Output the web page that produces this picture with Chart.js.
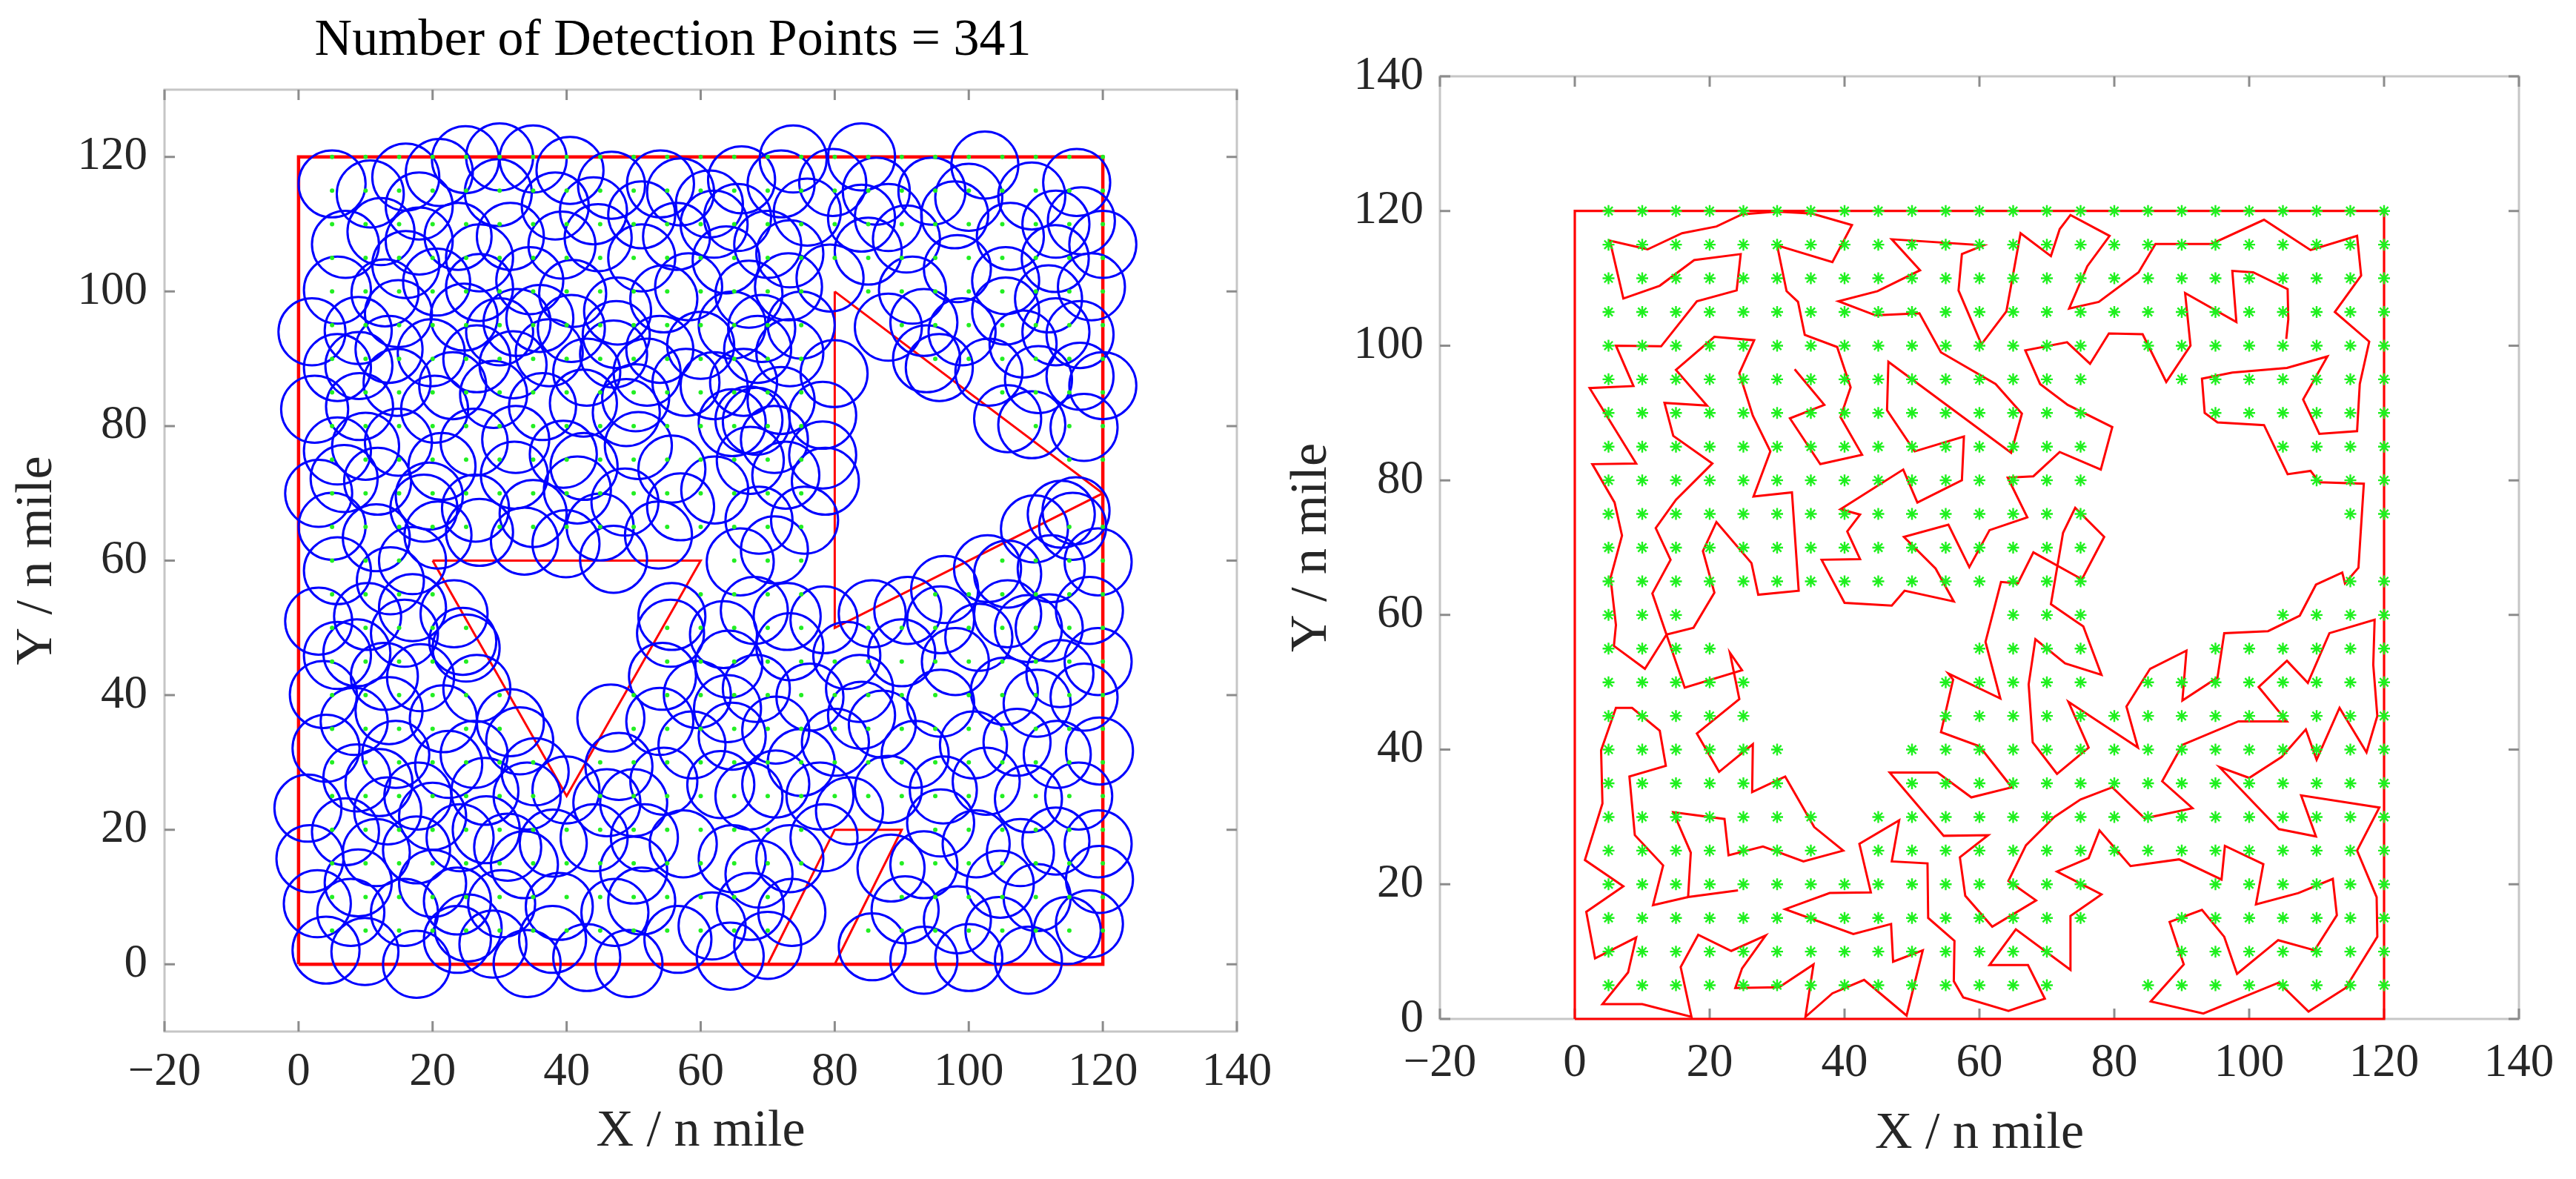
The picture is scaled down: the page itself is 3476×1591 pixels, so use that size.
<!DOCTYPE html>
<html>
<head>
<meta charset="utf-8">
<script src="https://cdn.jsdelivr.net/npm/chart.js@4.4.1/dist/chart.umd.min.js"></script>
<style>
  html, body { margin: 0; padding: 0; background: #fff; }
  #wrap { position: relative; width: 3476px; height: 1591px; overflow: hidden; }
  #leftBox { position: absolute; left: 0; top: 0; width: 1745px; height: 1591px; }
  #rightBox { position: absolute; left: 1700px; top: 0; width: 1776px; height: 1591px; }
</style>
</head>
<body>
<div id="wrap">
  <div id="leftBox"><canvas id="coverChart" width="1745" height="1591"></canvas></div>
  <div id="rightBox"><canvas id="routeChart" width="1776" height="1591"></canvas></div>
</div>
<script>
// ---- axes ----
var xTicks = [-20, 0, 20, 40, 60, 80, 100, 120, 140];
var yTicksLeft = [0, 20, 40, 60, 80, 100, 120];
var yTicksRight = [0, 20, 40, 60, 80, 100, 120, 140];

// ---- task area and obstacles (n mile) ----
var areaBorder = [[0, 0], [120, 0], [120, 120], [0, 120], [0, 0]];
var obstacleTri = [[20, 60], [60, 60], [40, 25], [20, 60]];
var obstacleRight = [[80, 100], [120, 70], [80, 50], [80, 100]];
var obstacleBottom = [[70, 0], [80, 20], [90, 20], [80, 0]];

// ---- candidate grid (green) ----
var gridX = [5, 10, 15, 20, 25, 30, 35, 40, 45, 50, 55, 60, 65, 70, 75, 80, 85, 90, 95, 100, 105, 110, 115, 120];
var gridY = [5, 10, 15, 20, 25, 30, 35, 40, 45, 50, 55, 60, 65, 70, 75, 80, 85, 90, 95, 100, 105, 110, 115, 120];
// rows where grid points are missing: [y, xFrom, xTo]
var gridGaps = [
  [5, 75, 80], [10, 75, 85], [15, 80, 85], [20, 80, 90],
  [25, 40, 40], [30, 40, 40], [35, 35, 45], [40, 35, 45], [45, 30, 50],
  [50, 30, 50], [50, 80, 80], [55, 25, 55], [55, 80, 90], [60, 20, 60], [60, 80, 100],
  [65, 80, 110], [70, 80, 120], [75, 80, 110], [80, 80, 105], [85, 80, 100],
  [90, 80, 90], [95, 80, 85], [100, 80, 80]
];

// ---- detection points (circle centres), radius 5 n mile ----
var sensorRadius = 5;
var centersTopLeft = [
  [5,116],[10.7,114.5],[16,117],[21,117.7],[24.9,119.6],[30,120],[35,119.7],[40.5,118],[46.7,115.8],[57,114.8],
  [18,112.7],[29.8,114.7],[38.3,112.7],[51.2,111.4],
  [7,107],[12.3,108.9],[18,107.5],[23.8,108.2],[31.6,108.2],[39.3,106.9],[44.7,108],[51.2,105],[56.4,108.2],
  [5.8,100.2],[12.9,99.8],[20.6,101.4],[27,100.6],[34.5,101.6],[47.6,97.1],[54.5,98.9],[58.2,100.7],
  [2,94],[8.9,94.2],[14.9,96.7],[24.7,96.2],[32.6,95.4],[40.7,94.5],
  [5.8,88.7],[13.5,91.4],[19.8,90.9],[26.6,90],[32,89.1],[37.4,90.9],[47,90.7],[53.9,91.4],[57.8,86.5],
  [2.4,82.5],[9.1,82.9],[14.7,86.5],[20.3,82.5],[29.1,84.7],[36.4,82.9],[42.5,83.4],[48.9,82],
  [5.8,76.3],[14.9,77.6],[21.4,74],[26.2,77.6],[32.4,78],[39.5,75.8],[50.7,77.1],[55.7,73.6],
  [6.8,72.2],[11.8,71.8],[26.4,67.8],[32.2,72.7],[41.6,70.5],
  [5,65.1],[11.6,63.4],[18.7,67.8],[20.8,63.8],[33.7,62.9],[39.9,62.5],[53.7,63.8],
  [40.9,99.7],[47.4,93.6],[50.3,84.2],[42.6,74],[19.5,69.6],[27,64.2],[47,60.2],[48.7,68.7],
  [44,112],[27,105],[36,96],[43,88],[23,86],[10,77],[35,67],[45,65],[57,68],[52,88],
  [60,92],[16,104],[3,70],[30,94],[54,116],[9,89],[17,60]
];
var centersTopRight = [
  [66.1,116.6],[73.8,119.7],[72,116],[79.7,116.2],[86.2,114.9],[94.5,114.9],[102.4,118.8],[109.4,114.2],[116.1,116.2],[116.8,110.5],
  [61.3,113],[65.5,111],[75.9,111.8],[84,110.9],[90.7,107.8],[97.9,111.4],[106.2,108.2],[112.9,104.9],
  [63.8,104.7],[67.2,99.6],[73.3,105.6],[79.3,102],[73.1,100.7],[91.6,100.2],[98.3,103.4],[105.5,101.6],[111.9,98.9],[118.3,100.7],[116.6,93.6],
  [69.1,94.5],[73.3,90.9],[79.9,87.8],[88,94.7],[93.3,95.4],[93.7,90],[95.6,88.7],[105.5,97.1],[108.1,92.2],[110.4,86.9],[116.6,87.4],
  [67.2,80.9],[78.2,81.6],[78.6,71.8],[105.8,81.1],[109.4,80.2],[117.2,79.8],
  [109.8,64.7],[113.8,66.9],[116,67.4],[115.5,65.1],[119.3,59.8],[105.8,58],
  [64.7,95],[68.5,91.4],[66.4,86.5],[72,83.8],[64.7,80.5],[68.3,80.7],[78.2,75.7],[67.4,74.9],[72.7,72.7],[62.1,70.5],[68.7,66],[75.5,66],[71,61.6],[65.9,59.8],
  [85,106],[100,114],[113,110],[120,107],[99,94],[113,94],[70,107],[62,110],[75,95],[84,120],
  [120,86],[103,88],[71,78],[62,86],[88,111]
];
var centersBottomLeft = [
  [5.8,58.5],[10.3,51.7],[13.7,57],[23.2,52.1],[24.5,48],[25,47],[5.8,45.9],[8.7,46.3],[15.8,49.2],[12.8,42.8],
  [18.2,42.6],[3.7,40.1],[8.3,36.1],[13.5,37.7],[21.6,36.5],[26.6,41],[31.6,35.9],[33,33.2],[26.2,31.2],[46.6,36.6],
  [53.9,36.1],[54.3,42.8],[55.7,51.7],[55.5,49.2],[59.5,40.1],[58.7,32.6],[4.1,32.1],[14.5,31.2],[8.7,27.7],[1.4,23.2],
  [22.4,29.7],[17.8,25],[27.8,25.7],[35.3,28.6],[39.9,25.9],[47.8,29.4],[54.5,27.2],[34.1,25],[7,19.7],[13.3,22.8],
  [11.6,16.6],[1.7,15.7],[17.6,17],[24.1,18.8],[31.2,17.4],[44.1,18.8],[51.6,18.8],[8.9,12.1],[2.8,9],[7.8,7.7],
  [15.8,7.7],[23.7,9.4],[38.9,8.6],[47.2,7.7],[4.1,2.1],[9.9,1.9],[17.6,0],[23.7,3.7],[34.1,0.1],[37.9,3.7],
  [49.3,0.1],[56.6,3.7],[33.7,14.8],[30.3,9],[57.4,17.9],[25.3,5.4],[51.2,9.4],
  [50,24],[20,22],[46,24],[38,18],[50,14],[28,20],[3,51],[17,53],[12,27],[29,3],
  [43,1],[20,12]
];
var centersBottomRight = [
  [68,52.6],[72.9,51.7],[63.4,49],[78.4,51.2],[85.6,52.1],[90.9,52.6],[105.8,52.1],[118,52.6],[108.9,49.9],[101.5,48.6],
  [95.8,51.2],[119.3,45],[113.6,43.2],[90,46.3],[81.8,45.9],[73.3,47.2],[68.3,41],[76.3,39.7],[83.7,41],[95.8,38.8],
  [105.3,40.6],[110.2,38.8],[117.2,39.7],[119.5,31.7],[64.7,33.9],[71.2,34.8],[80.1,33],[87.1,35.7],[92,31.2],[100.7,32.6],
  [107.2,33],[113.2,31.2],[67.2,25],[71.2,26.8],[82.2,22.8],[96.2,25.9],[102.6,27.2],[108.9,24.6],[116.4,25],[119.3,17.9],
  [113,18.3],[107.7,16.6],[101.1,17.9],[95.8,21],[93.3,14.8],[88.4,14.3],[78.4,18.8],[73.3,15.7],[64.7,15.7],[104.7,11.9],
  [119.5,12.6],[110.2,9.9],[90.5,8.1],[98.3,6.6],[73.6,7.7],[70,2.8],[64.4,1.2],[85.6,2.6],[93.3,0.6],[104.5,5],
  [108.9,0.6],[114.7,5],[64.2,44.6],[63,26.7],[77.8,25],[68.7,13.4],[67.4,8.6],[61.7,5.7],[96.4,55.7],[102.8,58.8],
  [112.3,58.8],[75,30],[88,26],[98,45],[112,50],[118,6],[100,1],[84,37],[64,38]
];

// ---- planned route (right panel) ----
var routeA = [
  [32.6,96.5],[37,91.2],[31.9,89.2],[36.4,82.4],[42.6,83.8],[39.4,89.4],[40.9,93.8],[38.9,99.8],[34.1,101.6],[33.1,106.5],
  [31.4,108.1],[30,114.9],[38.2,112.4],[41.1,117.9],[35.2,119.6],[29.9,119.9],[24.8,119.5],[21,117.7],[15.9,116.7],[10.8,114.3],
  [5.2,115.6],[7.2,107],[12.6,108.9],[17.7,112.7],[24.6,113.6],[24,108.2],[18.1,106.6],[12.8,99.9],[6.1,100],[8.7,94],
  [2.2,93.7],[9.1,82.5],[2.6,82.4],[5.9,76.7],[7,71.8],[5.3,65.5],[6.1,58.5],[5.8,55.4],[10.4,52],[13.6,57.1],
  [17.6,58.1],[20.7,63.3],[19,69.5],[21,73.8],[26.2,67.7],[27.2,63],[33.2,63.6],[32.2,78.2],[26.5,77.6],[29,84.3],
  [26.4,89.6],[24.4,95.9],[26.6,100.8],[20.7,101.3],[15,96.4],[19.6,91.1],[13.3,91.5],[14.6,86.6],[20.4,82.5],[15,77.1],
  [12,72.9],[14.2,68.2],[11.5,63.2],[16.3,49.2],[24.8,51.8],[23,54.4],[24.4,47.5],[18.1,42.4],[21.4,36.7],[26.4,40.8],
  [26.3,33.7],[31.2,36],[35.5,28.5],[39.8,25],[33.9,23.4],[27.9,25.6],[22.8,24.3],[22.2,29.7],[14.6,30.7],[17.2,24.7],
  [16.8,18.1],[24.2,19.1]
];
var routeB = [
  [105.5,101],[105.8,103.9],[105.7,108.4],[100.6,110.9],[97.5,111.1],[98.1,103.5],[90.5,107.8],[91.3,100],[87.7,94.6],[84.2,101.7],
  [79.2,101.8],[76.4,97.3],[73,100.5],[66.8,99.3],[69,94.3],[73.1,91.2],[79.7,87.9],[78,81.6],[71.9,84.2],[68,80.6],
  [64.2,80.4],[67.1,74.5],[61.5,72.6],[58.5,67.1],[55.4,73.4],[48.8,71.6],[53.5,66.9],[56.2,62],[48.9,63.6],[47,61.4],
  [40,61.8],[36.6,68.2],[42.3,68.3],[40.4,72.4],[42.3,74.9],[39.4,75.7],[48.7,81.6],[50.8,76.7],[57.4,80],[57.7,86.5],
  [50.4,84.3],[46.3,90.4],[46.5,97.6],[64.7,84.1],[66.3,89.9],[62.4,94.3],[54.3,99],[51.1,104.8],[44.6,104.5],[39.1,106.6],
  [44.9,108.1],[51.2,111.2],[47,115.8],[60.6,114.9],[57.4,113.6],[56.9,108.2],[60.3,100.2],[64,105.1],[66.1,116.7],[70.6,113.3],
  [71.9,117.3],[73.5,119.4],[79.3,116.3],[76,111.8],[73.3,105.5],[77.7,106.5],[83.6,110.9],[86.1,115.1],[94.4,115.1],[102.2,118.7],
  [109.1,114.2],[116,116.3],[116.6,110.4],[112.7,105],[117.8,100.6],[116.4,94.3],[116,87.3],[110.4,86.9],[108,92],[111.6,98.4],
  [105.6,96.7],[97.5,96],[93,95.1],[93.4,90],[95.3,88.6],[102.2,88.2],[105.7,80.9],[109.1,81.4],[110.4,79.7],[117,79.5],
  [116.2,67],[114.2,64.7],[113.8,66.3],[109.9,64.5],[107.5,59.9],[102.8,57.6],[96.3,57.3],[95.3,50.7],[90.1,47.3],[90.7,54.7],
  [85.3,52],[81.8,46.4],[83.5,40.3],[73.2,47.1],[76.2,40.3],[71.5,36.4],[67.9,41.1],[67.3,49.7],[68.3,56.4],[72.7,52.8],
  [78.1,51.1],[75.4,58.3],[74.5,58.9],[70.6,61.6],[72.4,72.2],[74.2,75.9],[78.5,71.6],[75.2,65.3],[68,69.3],[65.7,64.7],
  [63.2,64.9],[60.9,56],[63.1,47.6],[55.4,51.3],[56.1,50.4],[54.3,42.6],[60,40.5],[64.8,34.4],[58.8,32.9],[53.8,36.6],
  [46.7,36.6],[54.7,27.2],[61.3,27.3],[57.1,24],[57.9,18.3],[61.9,13.7],[68.4,17.6],[64.3,20.5],[66.9,25.8],[71.1,30],
  [75,32.6],[79.7,34.4],[84.5,29.8],[91.6,31.3],[87.1,35.3],[90.1,40.7],[98.4,44.2],[105.6,44.2],[101.4,49.3],[105.6,53.2],
  [108.7,49.9],[111.9,57.3],[118.6,59.3],[118.4,52.6],[119,45],[117.4,39.6],[113.4,46.2],[110,38.5],[108.4,43],[104.8,38.9],
  [100,35.8],[95.6,37.4],[104.4,28.2],[109.9,27.1],[107.7,33.2],[119.3,31.4],[116,25],[118.9,18.1],[119,12.2],[114.3,4.6],
  [108.8,1.1],[104.4,5.4],[93.2,0.8],[85.4,2.6],[90.3,8.1],[88.2,14.4],[93,16.2],[96.3,12.2],[98.2,6.7],[104.3,11.7],
  [109.7,10.2],[113,15.4],[112.4,20.8],[107.3,18.7],[101,17],[102.1,23],[96.4,25.7],[95.9,20.7],[89.6,23.7],[82.4,22.7],
  [77.8,28],[76.2,23.9],[71.5,21.9],[78.1,18.5],[73.5,15.3],[73.5,7.3],[65.4,13.3],[61.5,8],[67.2,8],[69.7,3],
  [64.3,1.2],[57.6,3.2],[56.2,5.6],[56.3,11.6],[52.4,15],[52.3,23.1],[47,23.4],[48.1,29.5],[42.2,26],[43.9,18.8],
  [37.8,18.7],[31.2,16.3],[41.3,12.6],[46.9,14.1],[47.2,8.5],[51.6,10.2],[49.2,0.5],[42.9,5.8],[38.2,3.8],[34.2,0.3],
  [35.4,8.1],[30.3,4.7],[23.8,4.6],[24.8,7.5],[28.3,12.4],[23.2,10.1],[18.3,12.5],[15.7,7.7],[17.3,0.3],[10,2.2],
  [4.1,2.2],[7.9,6.9],[9.1,12.1],[3,9],[1.7,15.9],[7.2,19.7],[1.5,23.6],[4.1,32],[3.9,39.9],[6.1,46.2],
  [8.5,46.2],[12.6,42.8],[13.5,37.6],[8.1,36],[8.9,27.3],[13.1,22.8],[11.6,16.9],[16.8,18.1]
];

// ---- helpers ----
function toXY(list) {
  return list.map(function (p) { return { x: p[0], y: p[1] }; });
}
function gridPoints() {
  var pts = [];
  gridY.forEach(function (y) {
    gridX.forEach(function (x) {
      var skip = gridGaps.some(function (g) { return g[0] === y && x >= g[1] && x <= g[2]; });
      if (!skip) pts.push({ x: x, y: y });
    });
  });
  return pts;
}
function minusLabel(v) {
  return v < 0 ? '\u2212' + Math.abs(v) : String(v);
}

var SERIF = '"Liberation Serif", "Times New Roman", serif';
var TEXT = '#262626';

// box round the axes with inward ticks on all four sides
var axisFrame = {
  id: 'axisFrame',
  beforeDatasetsDraw: function (chart) {
    var ctx = chart.ctx, a = chart.chartArea;
    var sx = chart.scales.x, sy = chart.scales.y;
    ctx.save();
    ctx.strokeStyle = '#c6c6c6';
    ctx.lineWidth = 3;
    ctx.strokeRect(a.left, a.top, a.right - a.left, a.bottom - a.top);
    ctx.strokeStyle = '#8c8c8c';
    ctx.beginPath();
    sx.ticks.forEach(function (t) {
      var px = sx.getPixelForValue(t.value);
      ctx.moveTo(px, a.bottom); ctx.lineTo(px, a.bottom - 14);
      ctx.moveTo(px, a.top); ctx.lineTo(px, a.top + 14);
    });
    sy.ticks.forEach(function (t) {
      var py = sy.getPixelForValue(t.value);
      ctx.moveTo(a.left, py); ctx.lineTo(a.left + 14, py);
      ctx.moveTo(a.right, py); ctx.lineTo(a.right - 14, py);
    });
    ctx.stroke();
    ctx.restore();
  }
};

var plotTitle = {
  id: 'plotTitle',
  afterDraw: function (chart, args, opts) {
    if (!opts || !opts.text) return;
    var ctx = chart.ctx;
    ctx.save();
    ctx.font = opts.size + 'px ' + SERIF;
    ctx.fillStyle = '#000';
    ctx.textAlign = 'center';
    ctx.textBaseline = 'middle';
    ctx.fillText(opts.text, opts.x, opts.y);
    ctx.restore();
  }
};

function axisOpts(min, max, ticks, title, fitSize, tickPad, titlePad, horizontal) {
  return {
    type: 'linear',
    position: horizontal ? 'bottom' : 'left',
    min: min,
    max: max,
    afterBuildTicks: function (s) { s.ticks = ticks.map(function (v) { return { value: v }; }); },
    afterFit: function (s) {
      if (horizontal) s.height = fitSize; else s.width = fitSize;
      s.paddingLeft = 0; s.paddingRight = 0; s.paddingTop = 0; s.paddingBottom = 0;
    },
    grid: { display: false, drawTicks: false },
    border: { display: false },
    ticks: {
      padding: tickPad,
      color: TEXT,
      font: { family: SERIF, size: 63 },
      maxRotation: 0,
      autoSkip: false,
      callback: function (v) { return minusLabel(v); }
    },
    title: {
      display: true,
      text: title,
      color: TEXT,
      font: { family: SERIF, size: 70 },
      padding: horizontal ? { top: 0, bottom: titlePad } : { top: titlePad, bottom: 0 }
    }
  };
}

function lineSet(points, width) {
  return {
    data: toXY(points),
    showLine: true,
    borderColor: '#ff0000',
    borderWidth: width,
    pointRadius: 0,
    fill: false,
    tension: 0,
    clip: false
  };
}

Chart.defaults.animation = false;

// ---- left: detection circles ----
var allCenters = centersTopLeft.concat(centersTopRight, centersBottomLeft, centersBottomRight);

new Chart(document.getElementById('coverChart'), {
  type: 'scatter',
  data: {
    datasets: [
      {
        data: gridPoints(),
        pointRadius: 3,
        pointBackgroundColor: '#22ee22',
        pointBorderWidth: 0,
        clip: false
      },
      {
        data: toXY(allCenters),
        pointRadius: function (c) {
          var s = c.chart.scales.x;
          return Math.abs(s.getPixelForValue(sensorRadius) - s.getPixelForValue(0));
        },
        pointBackgroundColor: 'rgba(0,0,0,0)',
        pointBorderColor: '#0000ff',
        pointBorderWidth: 3,
        clip: false
      },
      lineSet(areaBorder, 4.5),
      lineSet(obstacleTri, 3),
      lineSet(obstacleRight, 3),
      lineSet(obstacleBottom, 3)
    ]
  },
  options: {
    responsive: false,
    devicePixelRatio: 1,
    events: [],
    layout: { autoPadding: false, padding: { left: 0, right: 76, top: 121, bottom: 0 } },
    plugins: {
      legend: { display: false },
      tooltip: { enabled: false },
      plotTitle: { text: 'Number of Detection Points = 341', x: 908, y: 56, size: 70 }
    },
    scales: {
      x: axisOpts(-20, 140, xTicks, 'X / n mile', 199, 18, 21, true),
      y: axisOpts(-10, 130, yTicksLeft, 'Y / n mile', 222, 23, 9, false)
    }
  },
  plugins: [axisFrame, plotTitle]
});

// ---- right: planned route ----
new Chart(document.getElementById('routeChart'), {
  type: 'scatter',
  data: {
    datasets: [
      {
        data: gridPoints(),
        pointStyle: 'star',
        pointRadius: 8,
        pointBorderColor: '#1ef01e',
        pointBorderWidth: 2.4,
        clip: false
      },
      lineSet(areaBorder, 3.2),
      lineSet(routeA, 3),
      lineSet(routeB, 3)
    ]
  },
  options: {
    responsive: false,
    devicePixelRatio: 1,
    events: [],
    layout: { autoPadding: false, padding: { left: 0, right: 77, top: 103, bottom: 0 } },
    plugins: { legend: { display: false }, tooltip: { enabled: false } },
    scales: {
      x: axisOpts(-20, 140, xTicks, 'X / n mile', 216, 23, 18, true),
      y: axisOpts(0, 140, yTicksRight, 'Y / n mile', 243, 22, 29, false)
    }
  },
  plugins: [axisFrame]
});
</script>
</body>
</html>
